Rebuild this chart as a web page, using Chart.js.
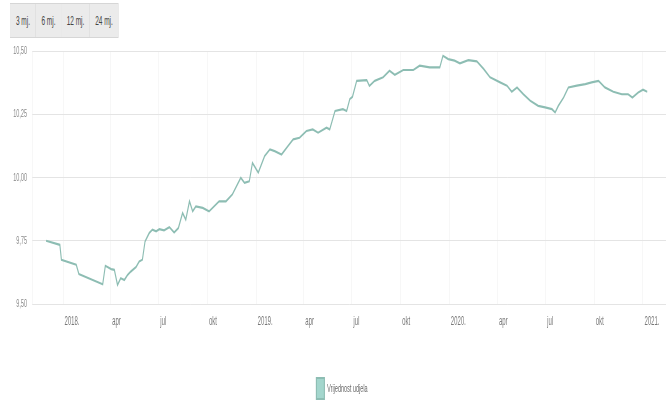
<!DOCTYPE html>
<html>
<head>
<meta charset="utf-8">
<script src="https://cdn.jsdelivr.net/npm/chart.js@4"></script>
<style>
html,body{margin:0;padding:0;background:#fff;overflow:hidden;width:668px;height:404px;}
#wrap{position:absolute;left:0;top:0;width:1336px;height:409px;transform:scaleX(0.5);transform-origin:0 0;}
#btns{position:absolute;left:20px;top:3px;height:35px;display:flex;border:1px solid #d6d6d6;box-sizing:border-box;}
#btns div{height:33px;font:13px "Liberation Sans",Arial,sans-serif;line-height:33px;text-align:center;background:#ebebeb;border-right:1px solid #d6d6d6;color:#444;}
#btns div:last-child{border-right:none;}
#cwrap{position:absolute;left:0;top:40px;width:1336px;height:369px;}
</style>
</head>
<body>
<div id="wrap">
  <div id="btns"></div>
  <div id="cwrap"><canvas id="c" width="1336" height="369"></canvas></div>
</div>
<script>
const seriesName = "Vrijednost udjela";
const dates = [
"2017-11-30","2017-12-26","2017-12-29","2018-01-26","2018-01-31","2018-03-17","2018-03-22","2018-04-02","2018-04-08","2018-04-14",
"2018-04-20","2018-04-27","2018-05-03","2018-05-09","2018-05-19","2018-05-25","2018-05-31","2018-06-05","2018-06-13","2018-06-19",
"2018-06-26","2018-07-02","2018-07-11","2018-07-21","2018-07-30","2018-08-07","2018-08-15","2018-08-21","2018-08-28","2018-09-03",
"2018-09-09","2018-09-22","2018-10-04","2018-10-23","2018-11-05","2018-11-17","2018-12-03","2018-12-10","2018-12-19","2018-12-25",
"2019-01-05","2019-01-17","2019-01-27","2019-02-05","2019-02-18","2019-03-02","2019-03-12","2019-03-24","2019-04-06","2019-04-18",
"2019-04-28","2019-05-14","2019-05-20","2019-05-30","2019-06-14","2019-06-21","2019-06-27","2019-07-02","2019-07-10","2019-07-29",
"2019-08-03","2019-08-13","2019-08-29","2019-09-10","2019-09-20","2019-10-06","2019-10-25","2019-11-06","2019-11-25","2019-12-14",
"2019-12-20","2019-12-30","2020-01-11","2020-01-21","2020-02-06","2020-02-22","2020-03-06","2020-03-18","2020-04-06","2020-04-19",
"2020-04-28","2020-05-08","2020-05-20","2020-06-02","2020-06-17","2020-06-30","2020-07-13","2020-07-19","2020-07-25","2020-08-04",
"2020-08-13","2020-08-29","2020-09-14","2020-09-26","2020-10-09","2020-10-21","2020-11-06","2020-11-22","2020-12-04","2020-12-12",
"2020-12-23","2021-01-01","2021-01-09"
];
const values = [
9.750,9.734,9.675,9.655,9.618,9.578,9.651,9.638,9.635,9.575,
9.602,9.595,9.615,9.628,9.646,9.668,9.675,9.747,9.781,9.794,
9.787,9.796,9.791,9.804,9.783,9.800,9.860,9.833,9.906,9.866,
9.886,9.880,9.866,9.906,9.906,9.933,9.999,9.979,9.985,10.058,
10.019,10.085,10.111,10.104,10.091,10.124,10.151,10.157,10.184,10.190,
10.177,10.197,10.190,10.263,10.270,10.263,10.310,10.319,10.382,10.385,
10.362,10.382,10.396,10.422,10.406,10.425,10.425,10.442,10.435,10.435,
10.481,10.468,10.462,10.451,10.464,10.459,10.429,10.396,10.376,10.363,
10.339,10.356,10.329,10.303,10.283,10.277,10.270,10.257,10.283,10.316,
10.356,10.363,10.369,10.376,10.382,10.356,10.339,10.329,10.329,10.316,
10.336,10.347,10.339
];
const tickDates = ["2018-01-01","2018-04-01","2018-07-01","2018-10-01","2019-01-01","2019-04-01","2019-07-01","2019-10-01","2020-01-01","2020-04-01","2020-07-01","2020-10-01","2021-01-01"];
const tickLabels = ["2018.","apr","jul","okt","2019.","apr","jul","okt","2020.","apr","jul","okt","2021."];
const yTicks = [9.50, 9.75, 10.00, 10.25, 10.50];
const buttons = ["3 mj.","6 mj.","12 mj.","24 mj."];

const btnWidths = [50,50,56,56];
const btns = document.getElementById('btns');
buttons.forEach((b,i)=>{const d=document.createElement('div');d.textContent=b;d.style.width=btnWidths[i]+'px';btns.appendChild(d);});

const base = Date.UTC(2018,0,1);
function dayNum(s){const p=s.split('-').map(Number);return (Date.UTC(p[0],p[1]-1,p[2])-base)/86400000;}
const pts = dates.map((d,i)=>({x:dayNum(d),y:values[i]}));
const tickDays = tickDates.map(dayNum);

const legendShift = {
  id:'legendShift',
  afterLayout(chart){ const l=chart.legend; if(l){ l.left-=14; l.right-=14; } }
};

new Chart(document.getElementById('c'), {
  type:'line',
  data:{datasets:[{label:seriesName,data:pts,borderColor:'#8dbdb3',backgroundColor:'#a3d6cd',borderWidth:2.2,pointRadius:0,tension:0,fill:false}]},
  options:{
    responsive:false,animation:false,
    layout:{padding:{left:0,right:4,top:11,bottom:0}},
    plugins:{
      legend:{position:'bottom',fullSize:false,labels:{boxWidth:16,boxHeight:21,color:'#666',padding:10,font:{family:'"Liberation Sans", Arial, sans-serif',size:11}}},
      tooltip:{enabled:false}
    },
    scales:{
      x:{type:'linear',min:-58.6,max:1139.5,
        afterBuildTicks:(s)=>{s.ticks=tickDays.map(v=>({value:v}));},
        afterFit:(s)=>{s.height=64;},
        grid:{color:'#efefef',drawTicks:false},
        border:{display:false},
        ticks:{autoSkip:false,maxRotation:0,align:'start',labelOffset:3,padding:10,color:'#777',
          font:{family:'"Liberation Sans", Arial, sans-serif',size:12},
          callback:(v,i)=>tickLabels[i]}
      },
      y:{min:9.5,max:10.5,
        afterBuildTicks:(s)=>{s.ticks=yTicks.map(v=>({value:v}));},
        afterFit:(s)=>{s.width=64;s.paddingTop=0;s.paddingBottom=0;},
        grid:{color:'#e4e4e4',drawTicks:false},
        border:{color:'#eeeeee'},
        ticks:{padding:10,color:'#888',font:{family:'"Liberation Sans", Arial, sans-serif',size:11},
          callback:(v)=>v.toFixed(2).replace('.',',')}
      }
    }
  },
  plugins:[legendShift]
});
</script>
</body>
</html>
